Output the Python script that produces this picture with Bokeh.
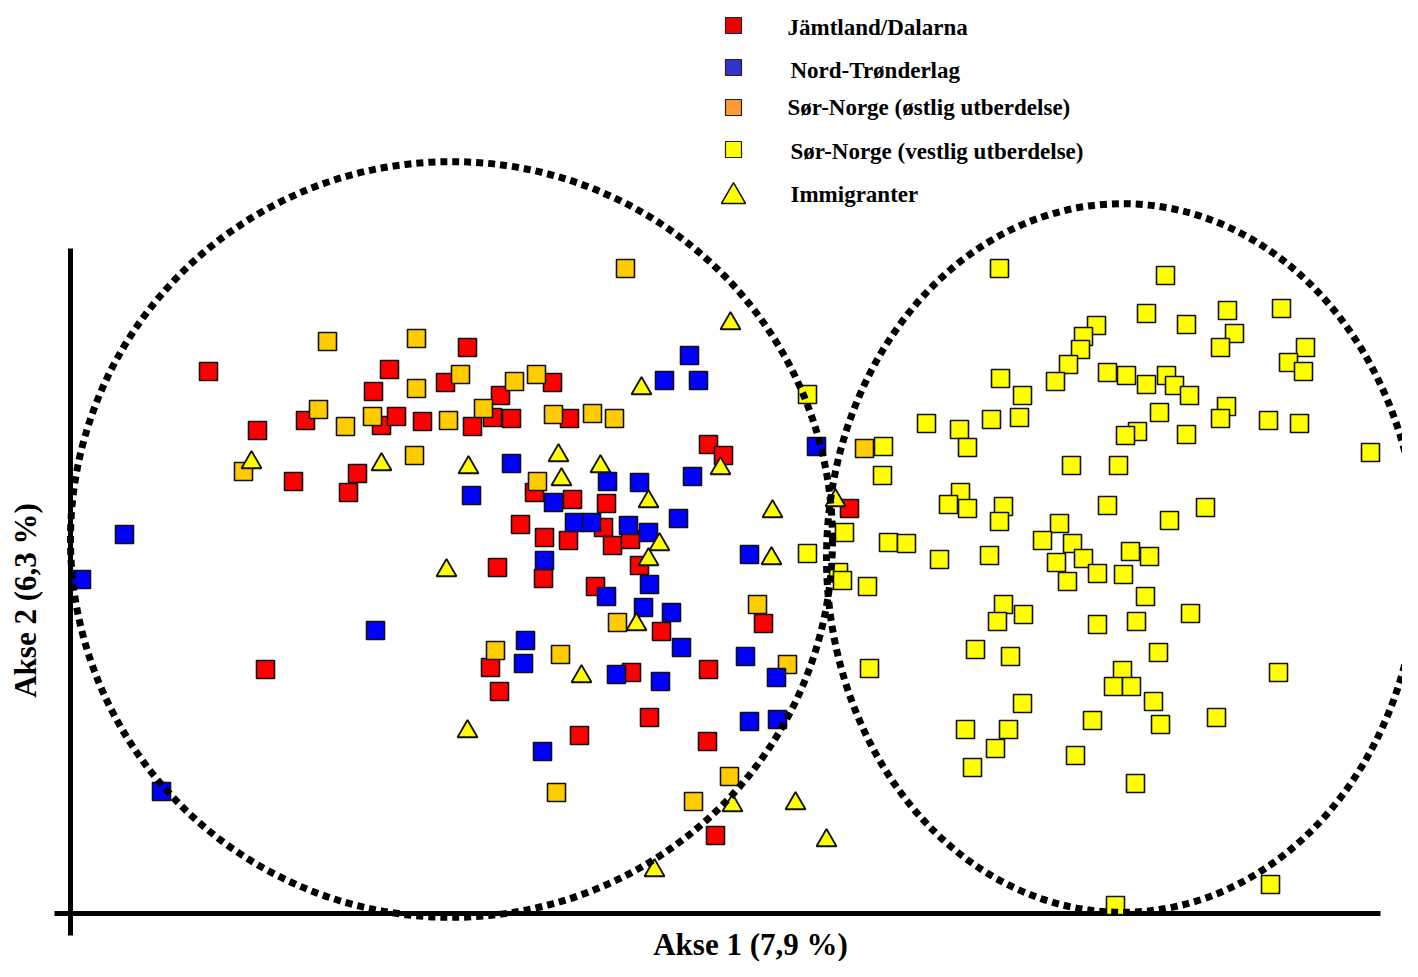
from bokeh.plotting import figure
from bokeh.models import Range1d, Label
from bokeh.core.properties import value
from bokeh.embed import file_html
from bokeh.resources import INLINE
import math

# ---------------- data (screen-like units) ----------------
red_x = [208, 257, 293, 305, 348, 357, 373, 381, 389, 396, 422, 445, 467, 472, 492, 500, 511, 552, 569, 708,
         723, 534, 572, 606, 520, 544, 568, 603, 612, 630, 497, 543, 595, 639, 661, 490, 631, 499, 708, 649,
         579, 707, 763, 715, 265, 849]
red_y = [371, 430, 481, 420, 492, 473, 391, 425, 369, 416, 421, 382, 347, 426, 417, 395, 418, 382, 418, 444,
         455, 492, 499, 503, 524, 537, 540, 527, 545, 539, 567, 578, 586, 565, 631, 667, 672, 691, 669, 717,
         735, 741, 623, 835, 669, 508]

blue_x = [81, 124, 161, 375, 471, 511, 689, 664, 698, 607, 639, 692, 553, 574, 591, 628, 648, 678, 816, 749,
          544, 649, 606, 643, 671, 681, 525, 523, 616, 660, 745, 776, 749, 777, 542]
blue_y = [579, 534, 791, 630, 495, 463, 355, 380, 380, 481, 482, 476, 502, 522, 522, 525, 532, 518, 446, 554,
          560, 584, 596, 607, 612, 647, 640, 663, 674, 681, 656, 677, 721, 719, 751]

orange_x = [625, 327, 416, 460, 514, 536, 416, 318, 345, 372, 448, 483, 553, 592, 614, 414, 243, 537, 617, 495,
            560, 757, 787, 729, 693, 556, 864]
orange_y = [268, 341, 338, 374, 381, 374, 388, 409, 426, 416, 420, 408, 414, 413, 418, 455, 471, 481, 622, 650,
            654, 604, 664, 776, 801, 792, 448]

yellow_x = [999, 1165, 1146, 1186, 1227, 1281, 1234, 1220, 1305, 1288, 1303, 1096, 1083, 1080, 1068, 1055, 1107,
            1126, 1146, 1166, 1174, 1189, 1000, 1022, 926, 959, 967, 991, 1019, 883, 882, 1226, 1220, 1268, 1299,
            1370, 1159, 1137, 1125, 1186, 1071, 1118, 960, 948, 967, 1003, 999, 1107, 1205, 1169, 1059, 1042,
            1072, 844, 888, 906, 939, 989, 1056, 1083, 1130, 1149,
            838, 842, 867, 1067, 1097, 1123, 1145, 1003, 997, 1023, 1097, 1136, 1190, 975, 1010, 1158, 869, 1122,
            1113, 1131, 1278, 1153, 1022, 1216, 1092, 1160, 965, 1008, 995, 972, 1075, 1135, 1270, 1115,
            807, 807]
yellow_y = [268, 275, 313, 324, 310, 308, 333, 347, 347, 362, 371, 325, 336, 349, 364, 381, 372,
            375, 384, 375, 385, 395, 378, 395, 423, 429, 447, 419, 417, 446, 475, 406, 418, 420, 423,
            452, 412, 431, 435, 434, 465, 465, 492, 504, 508, 506, 521, 505, 507, 520, 523, 540,
            543, 532, 542, 543, 559, 555, 562, 558, 551, 556,
            572, 580, 586, 581, 573, 574, 596, 604, 621, 614, 624, 621, 613, 649, 656, 652, 668, 670,
            686, 686, 672, 701, 703, 717, 720, 724, 729, 729, 748, 767, 755, 783, 884, 905,
            394, 553]

immig_x = [251, 381, 468, 446, 467, 558, 561, 600, 641, 648, 659, 648, 720, 730, 772, 771, 636, 581, 732, 795,
           826, 654, 835]
immig_y = [459, 461, 464, 567, 728, 452, 476, 463, 385, 498, 541, 556, 465, 320, 508, 555, 621, 673, 802, 800,
           837, 867, 497]

legend_labels = ["Jämtland/Dalarna", "Nord-Trønderlag", "Sør-Norge (østlig utberdelse)",
                 "Sør-Norge (vestlig utberdelse)", "Immigranter"]
x_label = "Akse 1 (7,9 %)"
y_label = "Akse 2 (6,3 %)"

# ---------------- layout / style ----------------
FONT = "Liberation Serif"
W, H = 1402, 961
p = figure(width=W, height=H, output_backend="svg", toolbar_location=None,
           x_range=Range1d(0, W), y_range=Range1d(H, 0),
           x_axis_type=None, y_axis_type=None, min_border=0, outline_line_color=None)
p.background_fill_color = "white"
p.border_fill_color = "white"

# axis lines
p.segment(x0=[70, 54], y0=[248, 913], x1=[70, 1380], y1=[935, 913], line_color="black", line_width=5)

SQ = 18
common = dict(marker="square", size=SQ, line_color="#111111", line_width=1.6)
p.scatter(red_x, red_y, fill_color="#FF0000", **common)
p.scatter(orange_x, orange_y, fill_color="#FFCC00", **common)
p.scatter(blue_x, blue_y, fill_color="#0000FF", **common)
p.scatter(yellow_x, yellow_y, fill_color="#FFFF00", **common)
p.scatter(immig_x, [y + 3 for y in immig_y], marker="triangle", size=20,
          fill_color="#FFFF00", line_color="#111111", line_width=1.8)

# dotted group circles
p.ellipse(x=[451, 1122], y=[539, 557.5], width=[762, 592], height=[756, 709],
          fill_color=None, line_color="black", line_width=7, line_dash="7 5")

# legend (manual)
leg_y = [25, 67, 107, 149, 193]
leg_tx = [787, 790, 787, 790, 790]
leg_ty = [27, 70, 107, 151, 194]
p.scatter([733] * 4, leg_y[:4], marker="square", size=16,
          fill_color=["#EE0000", "#3333CC", "#FF9933", "#FFFF00"], line_color="#222222", line_width=1.2)
p.scatter([733], [leg_y[4] + 3], marker="triangle", size=24, fill_color="#FFFF00",
          line_color="#111111", line_width=1.5)
p.text(x=leg_tx, y=leg_ty, text=legend_labels, text_font=value(FONT), text_font_style="bold",
       text_font_size="23px", text_align="left", text_baseline="middle", text_color="black")

p.add_layout(Label(x=750, y=944, text=x_label, text_font=FONT, text_font_style="bold",
                   text_font_size="31px", text_align="center", text_baseline="middle", text_color="black"))
p.add_layout(Label(x=25, y=600, text=y_label, angle=math.pi / 2, text_font=FONT, text_font_style="bold",
                   text_font_size="31px", text_align="center", text_baseline="middle", text_color="black"))

open("out.html", "w").write(file_html(p, INLINE))
